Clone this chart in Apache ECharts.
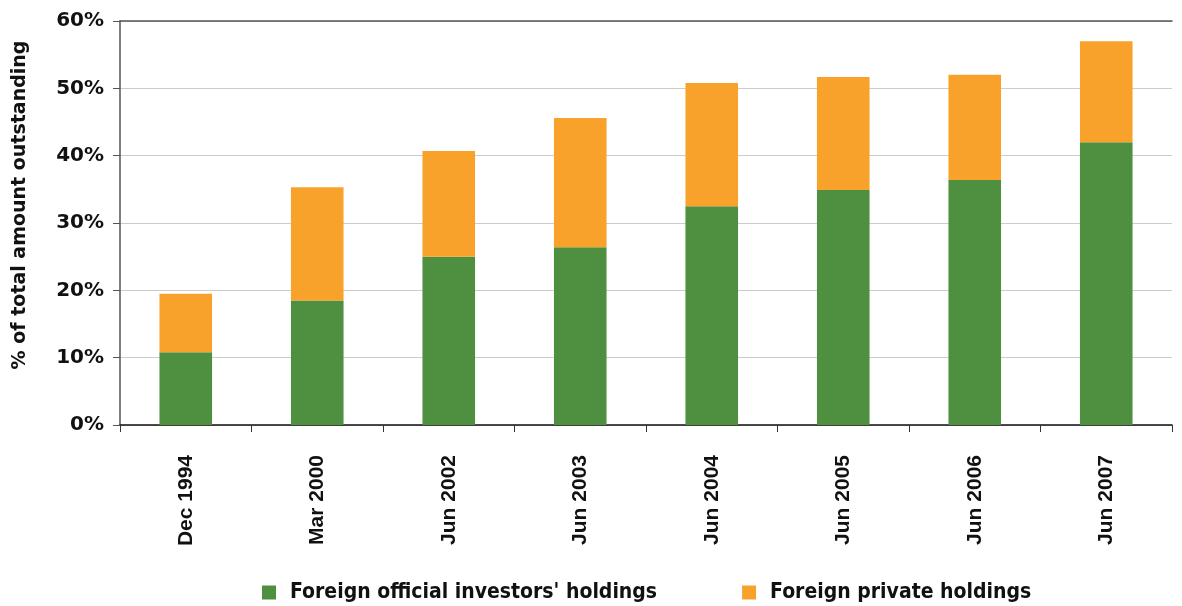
<!DOCTYPE html>
<html>
<head>
<meta charset="utf-8">
<script src="https://cdn.jsdelivr.net/npm/echarts@6/dist/echarts.min.js"></script>
<style>
  html, body { margin: 0; padding: 0; background: #fff; }
  #chart { width: 1182px; height: 606px; }
</style>
</head>
<body>
<div id="chart"></div>
<script>
var categories = ['Dec 1994', 'Mar 2000', 'Jun 2002', 'Jun 2003', 'Jun 2004', 'Jun 2005', 'Jun 2006', 'Jun 2007'];
var officialHoldings = [10.8, 18.5, 25.0, 26.4, 32.5, 34.9, 36.4, 42.0];
var privateHoldings = [8.7, 16.8, 15.7, 19.2, 18.3, 16.8, 15.6, 15.0];

var myChart = echarts.init(document.getElementById('chart'));

myChart.setOption({
    animation: false,
    grid: {
        left: 120,
        right: 10,
        top: 21,
        bottom: 181
    },
    legend: {
        bottom: -2,
        left: 257,
        itemWidth: 14,
        itemHeight: 14,
        itemGap: 85,
        icon: 'rect',
        textStyle: {
            fontFamily: 'DejaVu Sans Condensed',
            fontWeight: 'bold',
            fontSize: 21,
            color: '#111',
            padding: [0, 0, 0, 9]
        },
        data: ["Foreign official investors' holdings", 'Foreign private holdings']
    },
    xAxis: [{
        type: 'category',
        data: categories,
        axisLine: { lineStyle: { color: '#111', width: 1.5 } },
        axisTick: { show: true, length: 7, lineStyle: { color: '#333' } },
        axisLabel: {
            rotate: 90,
            margin: 30,
            fontFamily: 'Liberation Sans',
            fontWeight: 'bold',
            fontSize: 21,
            color: '#111'
        }
    }, {
        type: 'category',
        data: categories,
        position: 'top',
        axisLine: { lineStyle: { color: '#555', width: 1.5 } },
        axisTick: { show: false },
        axisLabel: { show: false }
    }],
    yAxis: {
        type: 'value',
        min: 0,
        max: 60,
        interval: 10,
        name: '% of total amount outstanding',
        nameLocation: 'middle',
        nameGap: 90,
        nameTextStyle: {
            fontFamily: 'DejaVu Sans',
            fontWeight: 'bold',
            fontSize: 19,
            color: '#111',
            padding: [0, 0, 0, 36]
        },
        axisLine: { show: true, lineStyle: { color: '#555', width: 1.5 } },
        axisTick: { show: true, length: 7, lineStyle: { color: '#555' } },
        axisLabel: {
            formatter: '{value}%',
            margin: 16,
            fontFamily: 'DejaVu Sans',
            fontWeight: 'bold',
            fontSize: 20,
            color: '#111'
        },
        splitLine: { lineStyle: { color: '#cccccc', width: 1 } }
    },
    series: [{
        name: "Foreign official investors' holdings",
        type: 'bar',
        stack: 'total',
        barWidth: '40%',
        data: officialHoldings,
        itemStyle: { color: '#4e9040' }
    }, {
        name: 'Foreign private holdings',
        type: 'bar',
        stack: 'total',
        barWidth: '40%',
        data: privateHoldings,
        itemStyle: { color: '#f9a22b' }
    }]
});
</script>
</body>
</html>
